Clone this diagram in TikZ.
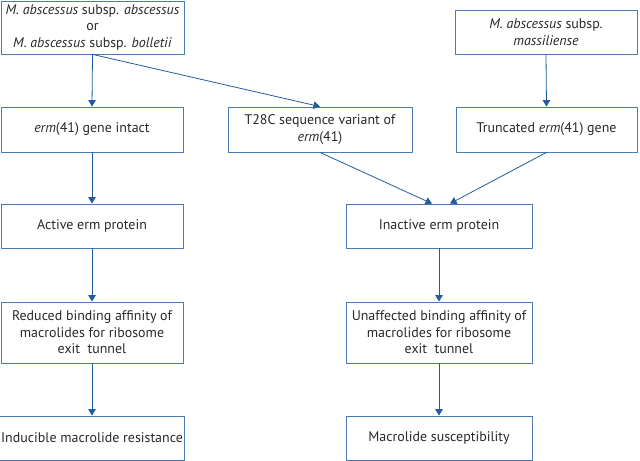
\documentclass[tikz,border=0pt]{standalone}
\usepackage{fontspec}
\setmainfont{PT Sans}
\usepackage{tikz}
\usetikzlibrary{arrows.meta}
\definecolor{boxline}{RGB}{74,122,176}
\definecolor{arrowcol}{RGB}{31,92,160}
\definecolor{txt}{RGB}{40,40,40}

\begin{document}
\begin{tikzpicture}[>={Triangle[length=6.5bp,width=7.5bp]},line join=bevel,
  stepbox/.style={rectangle,
                  draw=boxline,
                  line width=0.8bp,
                  text=txt,
                  align=center,
                  inner sep=2bp,
                  font=\fontsize{14}{16.5}\selectfont,
                  minimum height=#1},
  stepbox/.default=44bp,
  flow/.style={->,draw=arrowcol,line width=0.8bp},
  ]
\useasboundingbox (0bp,0bp) rectangle (640bp,461bp);
%%
  \node (mab) at (92.5bp,433.5bp) [stepbox=53bp,minimum width=183bp]
    {\textit{M. abscessus} subsp. \textit{abscessus}\\or\\\textit{M. abscessus} subsp. \textit{bolletii}};
  \node (mas) at (546bp,429bp) [stepbox,minimum width=182bp]
    {\textit{M. abscessus} subsp.\\\textit{massiliense}};
%%
  \node (intact) at (92bp,331.5bp) [stepbox=45bp,minimum width=182bp] {\textit{erm}(41) gene intact};
  \node (t28c) at (320bp,331.5bp) [stepbox=45bp,minimum width=184bp] {T28C sequence variant of\\\textit{erm}(41)};
  \node (trunc) at (546.5bp,331.5bp) [stepbox=45bp,minimum width=181bp] {Truncated \textit{erm}(41) gene};
%%
  \node (active) at (92bp,235bp) [stepbox,minimum width=182bp] {Active erm protein};
  \node (inactive) at (439bp,235bp) [stepbox,minimum width=186bp] {Inactive erm protein};
%%
  \node (reduced) at (92bp,128.5bp) [stepbox=61bp,minimum width=182bp]
    {Reduced binding affinity of\\macrolides for ribosome\\exit\ \ tunnel};
  \node (unaff) at (439bp,128.5bp) [stepbox=61bp,minimum width=186bp]
    {Unaffected binding affinity of\\macrolides for ribosome\\exit\ \ tunnel};
%%
  \node (resist) at (92bp,23bp) [stepbox,minimum width=182bp] {Inducible macrolide resistance};
  \node (suscept) at (439bp,23bp) [stepbox,minimum width=186bp] {Macrolide susceptibility};
%%
  \draw [flow] (mab.south) -- (intact.north);
  \draw [flow] (mab.south) -- (t28c.north);
  \draw [flow] (mas.south) -- (trunc.north);
  \draw [flow] (intact.south) -- (active.north);
  \draw [flow] (t28c.south) -- ([xshift=-7bp]inactive.north);
  \draw [flow] (trunc.south) -- ([xshift=11bp]inactive.north);
  \draw [flow] (active.south) -- (reduced.north);
  \draw [flow] (inactive.south) -- (unaff.north);
  \draw [flow] (reduced.south) -- (resist.north);
  \draw [flow] (unaff.south) -- (suscept.north);
%
\end{tikzpicture}
\end{document}
